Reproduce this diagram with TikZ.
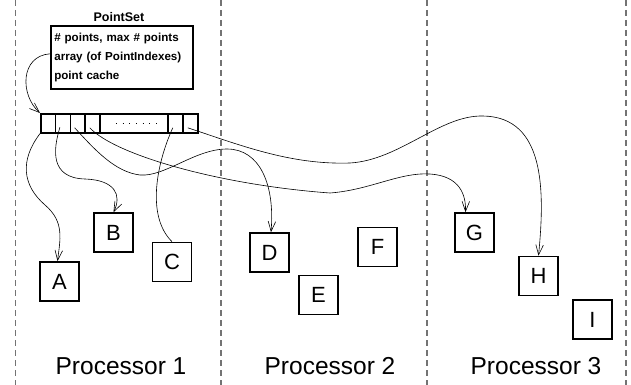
\documentclass[tikz,border=0pt]{standalone}
\usepackage{fontspec}
\setmainfont{Liberation Sans}
\usetikzlibrary{arrows.meta}
\begin{document}
\begin{tikzpicture}[x=1pt,y=-1pt,
  obj/.style={draw,line width=1.6pt,minimum size=39pt,inner sep=0pt,
    font=\fontsize{22}{22}\selectfont},
  cell/.style={draw,line width=1.6pt,minimum height=19pt,inner sep=0pt,
    anchor=north west},
  link/.style={line width=0.6pt},
  ptr/.style={link,-{Straight Barb[length=10pt,width=7.5pt]}},
  lane/.style={draw=black!55,line width=1.1pt,dash pattern=on 6pt off 4pt},
  proc/.style={anchor=base,font=\fontsize{24.5}{24.5}\selectfont}]
\useasboundingbox (0,0) rectangle (631,385);

% processor boundaries
\foreach \x in {15.5,221,427,626}
  \draw[lane] (\x,0) -- (\x,385);

% the PointSet record
\node[anchor=base,font=\bfseries\fontsize{12.5}{12.5}\selectfont] (title) at (119,22) {PointSet};
\node[draw,line width=1.6pt,anchor=north west,minimum width=142pt,minimum height=63pt,
  text width=135pt,inner xsep=3.5pt,inner ysep=0pt,align=left,
  font=\bfseries\fontsize{11.6}{19}\selectfont] (ps) at (50,25)
  {\# points, max \# points\\array (of PointIndexes)\\point cache};

% the array of point indexes
\node[cell,minimum width=14.75pt] (c1) at (40,113) {};
\node[cell,minimum width=14.75pt] (c2) at (54.75,113) {};
\node[cell,minimum width=14.75pt] (c3) at (69.5,113) {};
\node[cell,minimum width=14.75pt] (c4) at (84.25,113) {};
\node[cell,minimum width=68pt] (c5) at (99,113) {};
\node[cell,minimum width=15pt] (c6) at (167,113) {};
\node[cell,minimum width=15pt] (c7) at (182,113) {};
\draw[line width=0.6pt,dash pattern=on 0.8pt off 5.9pt]
  ([xshift=-18pt]c5.center) -- ([xshift=23pt]c5.center);

% the points
\node[obj] (A) at (59.5,281.5) {A};
\node[obj] (B) at (113.5,232.5) {B};
\node[obj] (C) at (172,262) {C};
\node[obj] (D) at (269.5,252.5) {D};
\node[obj] (E) at (318.5,295) {E};
\node[obj] (F) at (377.5,247) {F};
\node[obj] (G) at (474.5,232.5) {G};
\node[obj] (H) at (538.5,276) {H};
\node[obj] (I) at (592.5,319.5) {I};

% processor names
\node[proc] (p1) at (121,374) {Processor 1};
\node[proc] (p2) at (330,374) {Processor 2};
\node[proc] (p3) at (536,374) {Processor 3};

% pointers
\draw[ptr] ([yshift=3.5pt]ps.west) .. controls (20,56) and (20,95) .. (c1.north west);
\draw[ptr] (c1.south west) .. controls (20,160) and (22,185) .. (45,205)
  .. controls (65,222) and (60,240) .. ([xshift=-2pt]A.north);
\draw[ptr] ([xshift=-3pt,yshift=-4pt]c2.center) .. controls (53,150) and (50,178) .. (85,179)
  .. controls (115,180) and (122,195) .. (B.north);
\draw[ptr] ([xshift=-3pt,yshift=-4.5pt]c3.center) .. controls (95,150) and (115,172) .. (140,175)
  .. controls (165,177) and (195,149) .. (227,149)
  .. controls (260,149) and (275,185) .. ([xshift=1.5pt]D.north);
\draw[ptr] ([xshift=-2.6pt,yshift=-4.5pt]c4.center) .. controls (115,155) and (220,185) .. (330,193)
  .. controls (370,190) and (400,172) .. (430,174)
  .. controls (460,176) and (466,195) .. ([xshift=-9pt]G.north);
\draw[link] ([xshift=-2.5pt,yshift=-4.5pt]c6.center) .. controls (158,160) and (145,215) .. (C.north);
\draw[ptr] ([xshift=-2.5pt,yshift=-4.5pt]c7.center) .. controls (240,145) and (290,165) .. (350,163)
  .. controls (400,160) and (440,115) .. (483,116)
  .. controls (545,117) and (545,190) .. (H.north);
\end{tikzpicture}
\end{document}
